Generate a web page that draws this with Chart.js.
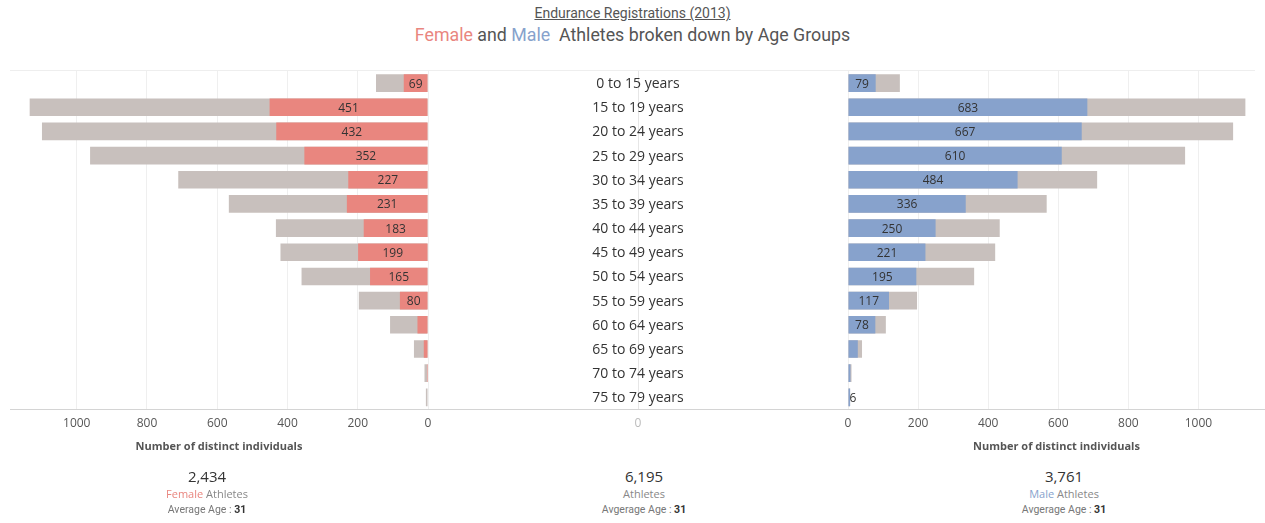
<!DOCTYPE html>
<html><head><meta charset="utf-8">
<script src="https://cdn.jsdelivr.net/npm/chart.js@4.4.0/dist/chart.umd.min.js"></script>
<style>
body{margin:0;background:#fff;width:1265px;height:523px;position:relative;overflow:hidden;font-family:'Open Sans',sans-serif}
.abs{position:absolute}
canvas{position:absolute}
#title{top:5px;left:0;width:1265px;text-align:center;font:14px Roboto,sans-serif;color:#555}
#title span{text-decoration:underline}
#sub{top:24px;left:0;width:1265px;text-align:center;font:17.8px Roboto,sans-serif;color:#555}
.f{color:#e9867f}.m{color:#87a2cc}
#sep{top:70px;left:10px;width:1245px;height:1px;background:#eeeeee}
.stat{top:466px;width:300px;text-align:center}
.stat .n{font:15px 'Open Sans',sans-serif;color:#333;line-height:20px}
.stat .a{font:11px 'Open Sans',sans-serif;color:#888;line-height:17px;margin-top:-1px}
.stat .g{font:10.5px Roboto,sans-serif;color:#777;line-height:15px}
.stat .g b{color:#333;font-weight:bold}
</style></head>
<body>
<div id="title" class="abs"><span>Endurance Registrations (2013)</span></div>
<div id="sub" class="abs"><span class="f">Female</span> and <span class="m">Male</span>&nbsp; Athletes broken down by Age Groups</div>
<div id="sep" class="abs"></div>
<canvas id="cc" width="420" height="400" style="left:428px;top:60px"></canvas>
<canvas id="cl" width="440" height="400" style="left:0;top:60px"></canvas>
<canvas id="cr" width="428" height="400" style="left:837px;top:60px"></canvas>
<div class="abs stat" style="left:57px"><div class="n">2,434</div><div class="a"><span class="f">Female</span> Athletes</div><div class="g">Average Age : <b>31</b></div></div>
<div class="abs stat" style="left:494px"><div class="n">6,195</div><div class="a">Athletes</div><div class="g">Avgerage Age : <b>31</b></div></div>
<div class="abs stat" style="left:914px"><div class="n">3,761</div><div class="a"><span class="m">Male</span> Athletes</div><div class="g">Avgerage Age : <b>31</b></div></div>
<script>
const ageGroups = ['0 to 15 years','15 to 19 years','20 to 24 years','25 to 29 years','30 to 34 years','35 to 39 years','40 to 44 years','45 to 49 years','50 to 54 years','55 to 59 years','60 to 64 years','65 to 69 years','70 to 74 years','75 to 79 years'];
const female = [69,451,432,352,227,231,183,199,165,80,30,12,3,0];
const male   = [79,683,667,610,484,336,250,221,195,117,78,28,7,6];
const totals = [148,1134,1099,962,711,567,433,420,360,197,108,40,10,6];
const femaleLabels = ['69','451','432','352','227','231','183','199','165','80','','','',''];
const maleLabels   = ['79','683','667','610','484','336','250','221','195','117','78','','','6'];
const xTicks = [0,200,400,600,800,1000];
const xMax = 1190;

const RED='#e9867f', BLUE='#87a2cc', GREY='#c8c0bd';
Chart.defaults.font.family = "'Open Sans', sans-serif";
Chart.defaults.animation = false;

const barLabels = {
  id:'barLabels',
  afterDatasetsDraw(chart, args, opts){
    const meta = chart.getDatasetMeta(0), ctx = chart.ctx;
    ctx.save();
    ctx.font = "12px 'Open Sans', sans-serif";
    ctx.fillStyle = '#333';
    ctx.textAlign = 'center'; ctx.textBaseline = 'middle';
    meta.data.forEach((bar,i)=>{
      const lab = opts.labels[i]; if(!lab) return;
      const w = ctx.measureText(lab).width;
      let x = (bar.x + bar.base)/2;
      const dir = opts.reverse ? -1 : 1;
      if (Math.abs(bar.x - bar.base) < w + 4) x = bar.base + dir*(w/2 + 1);
      ctx.fillText(lab, x, bar.y + 1);
    });
    ctx.restore();
  }
};

function xScale(reverse, title){
  return {
    type:'linear', reverse, min:0, max:xMax,
    afterBuildTicks: s => { s.ticks = xTicks.map(v=>({value:v})); },
    grid:{color:'#efefef', drawTicks:false},
    border:{display:true, color:'#d4d4d4'},
    ticks:{padding:7, color:'#555', font:{size:12}, callback:v=>String(v)},
    title:{display:true, text:title, color:'#555', font:{size:11, weight:'bold'}, padding:{top:2,bottom:0}}
  };
}

function sideChart(id, values, colour, labels, reverse, pad){
  return new Chart(document.getElementById(id), {
    type:'bar',
    data:{labels:ageGroups, datasets:[
      {data:values, backgroundColor:colour, grouped:false, order:0, categoryPercentage:1, barPercentage:0.73},
      {data:totals, backgroundColor:GREY, grouped:false, order:1, categoryPercentage:1, barPercentage:0.73}
    ]},
    options:{
      indexAxis:'y', responsive:false, maintainAspectRatio:false,
      layout:{padding:pad},
      plugins:{legend:{display:false}, tooltip:{enabled:false}, barLabels:{labels, reverse}},
      scales:{ x:xScale(reverse,'Number of distinct individuals'), y:{display:false, offset:true} }
    },
    plugins:[barLabels]
  });
}

sideChart('cl', female, RED, femaleLabels, true, {left:10,right:12,top:11,bottom:7});
sideChart('cr', male, BLUE, maleLabels, false, {left:11,right:0,top:11,bottom:7});

const centreLabels = {
  id:'centreLabels',
  afterDraw(chart){
    const ctx = chart.ctx, ys = chart.scales.y, xs = chart.scales.x;
    ctx.save();
    ctx.font = "14px 'Open Sans', sans-serif";
    ctx.fillStyle = '#333'; ctx.textAlign='center'; ctx.textBaseline='middle';
    ageGroups.forEach((g,i)=> ctx.fillText(g, xs.getPixelForValue(0), ys.getPixelForValue(i)+1));
    ctx.restore();
  }
};
new Chart(document.getElementById('cc'), {
  type:'bar',
  data:{labels:ageGroups, datasets:[{data:ageGroups.map(()=>null)}]},
  options:{
    indexAxis:'y', responsive:false, maintainAspectRatio:false,
    layout:{padding:{left:0,right:0,top:11,bottom:7}},
    plugins:{legend:{display:false}, tooltip:{enabled:false}},
    scales:{
      x:{type:'linear', min:-1, max:1, afterBuildTicks:s=>{s.ticks=[{value:0}];},
         grid:{color:'#e6e6e6', drawTicks:false}, border:{display:true,color:'#d4d4d4'},
         ticks:{padding:7,color:'#bbb',font:{size:12}},
         title:{display:true,text:'x',color:'rgba(0,0,0,0)',font:{size:11,weight:'bold'},padding:{top:2,bottom:0}}},
      y:{display:false, offset:true}
    }
  },
  plugins:[centreLabels]
});
</script>
</body></html>
